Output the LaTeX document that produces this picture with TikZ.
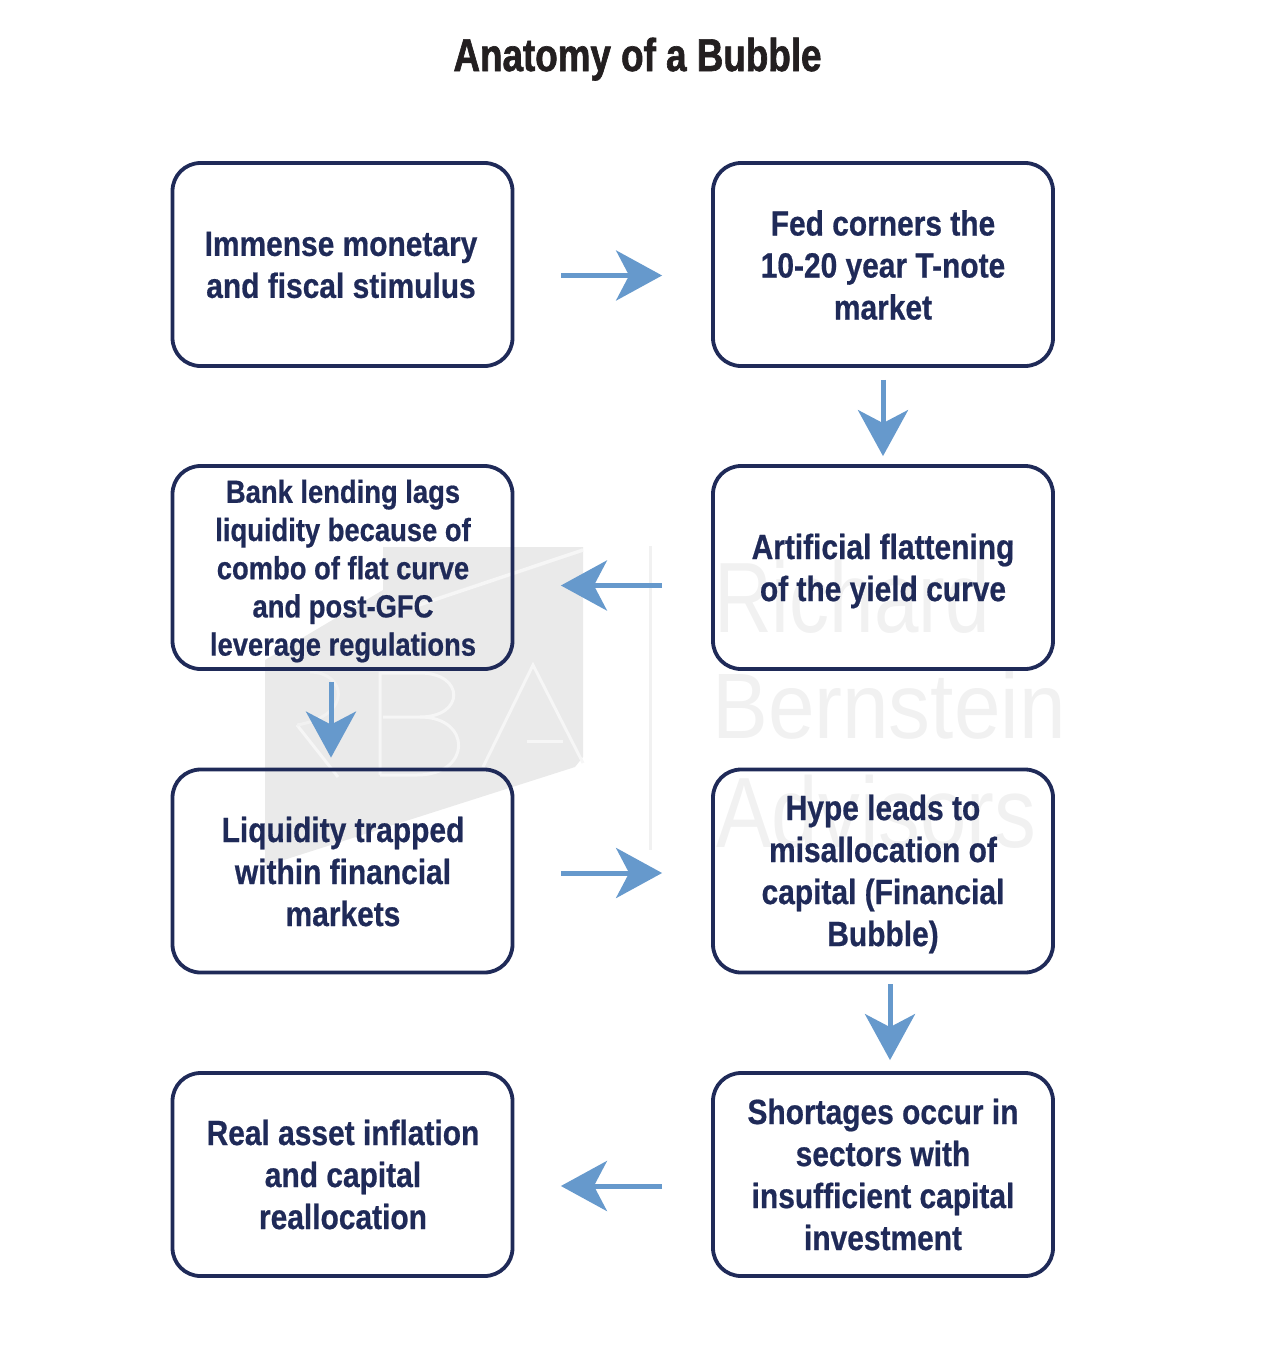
\documentclass[tikz,border=0pt]{standalone}
\usepackage{fontspec}
\usetikzlibrary{arrows.meta,calc}
\setmainfont{Liberation Sans}
\newfontfamily\cond[FakeStretch=0.855,BoldFeatures={FakeBold=0.6}]{Liberation Sans}
\newfontfamily\headfont[FakeStretch=0.80,BoldFeatures={FakeBold=1.4}]{Liberation Sans}
\definecolor{navy}{HTML}{1F2A58}
\definecolor{flowblue}{HTML}{6699CC}
\definecolor{inkblack}{HTML}{231F20}
\definecolor{wmgray}{HTML}{EAEAEA}
\definecolor{wmline}{HTML}{F6F6F6}
\definecolor{wmtext}{HTML}{F1F1F1}
\tikzset{
  x=1pt,y=-1pt,
  stepbox/.style={draw=navy,line width=3.8pt,rounded corners=28pt,minimum width=340pt,minimum height=203pt,inner sep=0pt},
  steptext/.style={align=center,text=navy,inner sep=0pt,font=\cond\bfseries\fontsize{35}{42}\selectfont},
  smalltext/.style={font=\cond\bfseries\fontsize{32}{38.2}\selectfont},
  flow/.style={draw=flowblue,line width=5pt,-{Stealth[length=46pt,width=50pt,inset=13pt,fill=flowblue]}},
  wm/.style={text=wmtext,anchor=base west,inner sep=0pt},
  logoline/.style={draw=wmline,line width=3pt}
}
\begin{document}
\begin{tikzpicture}
\useasboundingbox (0,0) rectangle (1262,1346);
% watermark
\fill[wmgray] (383,547) -- (583,547) -- (583,757) -- (575,767) -- (265,866) -- (265,660) -- (383,590) -- cycle;
\draw[logoline,line width=3.5pt] (583,550) -- (383,617);
\draw[logoline] (297,725) -- (338,777);
\draw[logoline,wmtext] (310,672) .. controls (345,672) and (355,715) .. (297,725);
\draw[logoline] (380,775) -- (380,673) -- (420,673) .. controls (465,673) and (465,717) .. (420,717) -- (383,717);
\draw[logoline] (420,717) .. controls (472,717) and (472,775) .. (417,775) -- (380,775);
\draw[logoline] (483,767) -- (533,665) -- (583,763);
\draw[logoline] (527,741) -- (563,741);
\draw[wmtext,line width=3pt] (650,546) -- (650,850);
\node[wm,font=\fontsize{100}{100}\selectfont,xscale=0.8] (wmr) at (714,632) {Richard};
\node[wm,font=\fontsize{93}{93}\selectfont,xscale=0.9] (wmb) at (712,738) {Bernstein};
\node[wm,font=\fontsize{100}{100}\selectfont,xscale=0.835] (wma) at (716,847) {Advisors};
% boxes
\node[stepbox] (n1) at (342.5,264.5) {};
\node[stepbox] (n2) at (883,264.5) {};
\node[stepbox] (n3) at (883,567.5) {};
\node[stepbox] (n4) at (342.5,567.5) {};
\node[stepbox] (n5) at (342.5,871) {};
\node[stepbox] (n6) at (883,871) {};
\node[stepbox] (n7) at (883,1174.5) {};
\node[stepbox] (n8) at (342.5,1174.5) {};
% box texts
\node[steptext] (t1) at (341,265) {Immense monetary\\and fiscal stimulus};
\node[steptext] (t2) at (883,265) {Fed corners the\\10-20 year T-note\\market};
\node[steptext] (t3) at (883,571) {Artificial flattening\\of the yield curve};
\node[steptext,smalltext] (t4) at (343,571) {Bank lending lags\\liquidity because of\\combo of flat curve\\and post-GFC\\leverage regulations};
\node[steptext] (t5) at (343,871.5) {Liquidity trapped\\within financial\\markets};
\node[steptext] (t6) at (883,874) {Hype leads to\\misallocation of\\capital (Financial\\Bubble)};
\node[steptext] (t7) at (883,1174.5) {Shortages occur in\\sectors with\\insufficient capital\\investment};
\node[steptext] (t8) at (343,1174.5) {Real asset inflation\\and capital\\reallocation};
\node[text=inkblack,anchor=base,inner sep=0pt,font=\headfont\bfseries\fontsize{46}{50}\selectfont] (title) at (637.5,71) {Anatomy of a Bubble};
% connectors
\draw[flow,shorten <=47pt,shorten >=49pt] ([yshift=-11pt]n1.east) -- ([yshift=-11pt]n2.west);
\draw[flow,shorten <=12pt,shorten >=8pt] (n2.south) -- (n3.north);
\draw[flow,shorten <=49pt,shorten >=46.5pt] ([yshift=-18pt]n3.west) -- ([yshift=-18pt]n4.east);
\draw[flow,shorten <=11pt,shorten >=10pt] ([xshift=-11.5pt]n4.south) -- ([xshift=-11.5pt]n5.north);
\draw[flow,shorten <=47pt,shorten >=49pt] ([yshift=-2pt]n5.east) -- ([yshift=-2pt]n6.west);
\draw[flow,shorten <=10pt,shorten >=11pt] ([xshift=7pt]n6.south) -- ([xshift=7pt]n7.north);
\draw[flow,shorten <=49pt,shorten >=46.5pt] ([yshift=-11.5pt]n7.west) -- ([yshift=-11.5pt]n8.east);
\end{tikzpicture}
\end{document}
